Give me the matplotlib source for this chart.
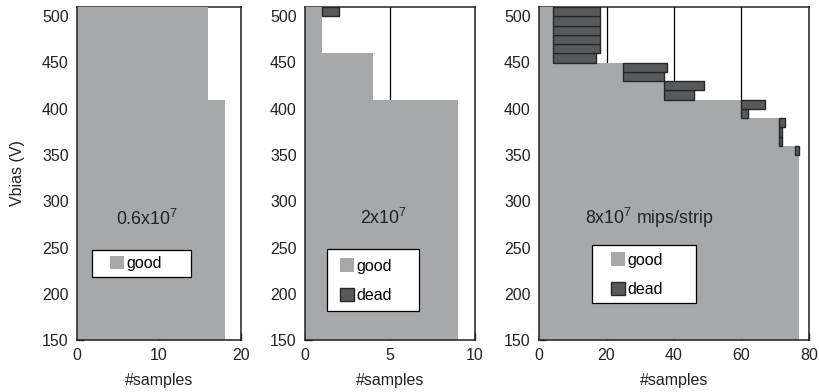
import matplotlib
matplotlib.use("Agg")
import matplotlib.pyplot as plt
import numpy as np
from matplotlib.patches import Patch, Rectangle

plt.rcParams["font.family"] = ["Liberation Sans", "DejaVu Sans"]
plt.rcParams["font.size"] = 11.5
plt.rcParams["mathtext.fontset"] = "custom"
plt.rcParams["mathtext.rm"] = "Liberation Sans"
plt.rcParams["mathtext.default"] = "rm"

# lower edge of each 10 V bin, 150 .. 500
vbias_bins = [150, 160, 170, 180, 190, 200, 210, 220, 230, 240,
              250, 260, 270, 280, 290, 300, 310, 320, 330, 340,
              350, 360, 370, 380, 390, 400, 410, 420, 430, 440,
              450, 460, 470, 480, 490, 500]

# 0.6x10^7
good_1 = [18, 18, 18, 18, 18, 18, 18, 18, 18, 18,
          18, 18, 18, 18, 18, 18, 18, 18, 18, 18,
          18, 18, 18, 18, 18, 18, 16, 16, 16, 16,
          16, 16, 16, 16, 16, 16]

# 2x10^7
good_2 = [9, 9, 9, 9, 9, 9, 9, 9, 9, 9,
          9, 9, 9, 9, 9, 9, 9, 9, 9, 9,
          9, 9, 9, 9, 9, 9, 4, 4, 4, 4,
          4, 1, 1, 1, 1, 1]
dead_2 = [0, 0, 0, 0, 0, 0, 0, 0, 0, 0,
          0, 0, 0, 0, 0, 0, 0, 0, 0, 0,
          0, 0, 0, 0, 0, 0, 0, 0, 0, 0,
          0, 0, 0, 0, 0, 1]

# 8x10^7
good_3 = [77, 77, 77, 77, 77, 77, 77, 77, 77, 77,
          77, 77, 77, 77, 77, 77, 77, 77, 77, 77,
          76, 71, 71, 71, 60, 60, 37, 37, 25, 25,
          4, 4, 4, 4, 4, 4]
dead_3 = [0, 0, 0, 0, 0, 0, 0, 0, 0, 0,
          0, 0, 0, 0, 0, 0, 0, 0, 0, 0,
          1, 1, 1, 2, 2, 7, 9, 12, 12, 13,
          13, 14, 14, 14, 14, 14]

GOOD = "#a7a8aa"
DEAD = "#58595b"
EDGE = "#262626"
INK = "#222222"

panels = [
    dict(good=good_1, dead=None, xmax=20, xticks=[0, 10, 20],
         label=r"0.6x10$^7$", label_xy=(8.5, 281),
         box=(0.0915, 0.189, 0.6035, 0.081), leg_xy=(0.20, 0.2297)),
    dict(good=good_2, dead=dead_2, xmax=10, xticks=[0, 5, 10],
         label=r"2x10$^7$", label_xy=(4.6, 282),
         box=(0.128, 0.086, 0.543, 0.187), leg_xy=(0.205, 0.178)),
    dict(good=good_3, dead=dead_3, xmax=80, xticks=[0, 20, 40, 60, 80],
         label=r"8x10$^7$ mips/strip", label_xy=(32.5, 282),
         box=(0.197, 0.111, 0.386, 0.174), leg_xy=(0.266, 0.196)),
]
lefts = [77, 305, 539]
widths = [164, 170, 270]

fig = plt.figure(figsize=(8.2, 3.92), dpi=100)
y = np.array(vbias_bins)

for i, p in enumerate(panels):
    ax = fig.add_axes([lefts[i] / 820, 52 / 392, widths[i] / 820, 333 / 392])
    ax.set_axisbelow(True)
    ax.xaxis.grid(True, color="black", linewidth=0.9)

    good = np.array(p["good"])
    ax.barh(y, good, height=10, align="edge", color=GOOD, linewidth=0, zorder=1)
    handles = [Patch(facecolor=GOOD, edgecolor="none", label="good")]
    if p["dead"] is not None:
        dead = np.array(p["dead"])
        m = dead > 0
        ax.barh(y[m], dead[m], left=good[m], height=10, align="edge",
                color=DEAD, edgecolor=EDGE, linewidth=1.0, zorder=1.5)
        handles.append(Patch(facecolor=DEAD, edgecolor=EDGE, linewidth=1.0, label="dead"))

    ax.set_xlim(0, p["xmax"])
    ax.set_ylim(150, 510)
    ax.set_xticks(p["xticks"])
    ax.set_yticks([150, 200, 250, 300, 350, 400, 450, 500])
    ax.tick_params(direction="in", length=5, width=1.0, colors=INK,
                   labelcolor=INK, pad=6)
    for s in ax.spines.values():
        s.set_linewidth(1.1)
        s.set_color(INK)
    ax.spines["top"].set_zorder(0.8)
    ax.set_xlabel("#samples", color=INK, labelpad=7)
    if i == 0:
        ax.set_ylabel("Vbias (V)", color=INK)
        ax.yaxis.set_label_coords(-0.32, 0.5)

    ax.text(p["label_xy"][0], p["label_xy"][1], p["label"], ha="center",
            va="center", color=INK, fontsize=12.8)

    bx, by, bw, bh = p["box"]
    ax.add_patch(Rectangle((bx, by), bw, bh, transform=ax.transAxes,
                           facecolor="white", edgecolor="black",
                           linewidth=0.9, zorder=4))
    ax.legend(handles=handles, loc="center left", bbox_to_anchor=p["leg_xy"],
              frameon=False, borderpad=0, borderaxespad=0,
              handlelength=0.9, handleheight=0.9, handletextpad=0.15,
              labelspacing=0.9, fontsize=11.5)

fig.savefig("out.png", dpi=100)
